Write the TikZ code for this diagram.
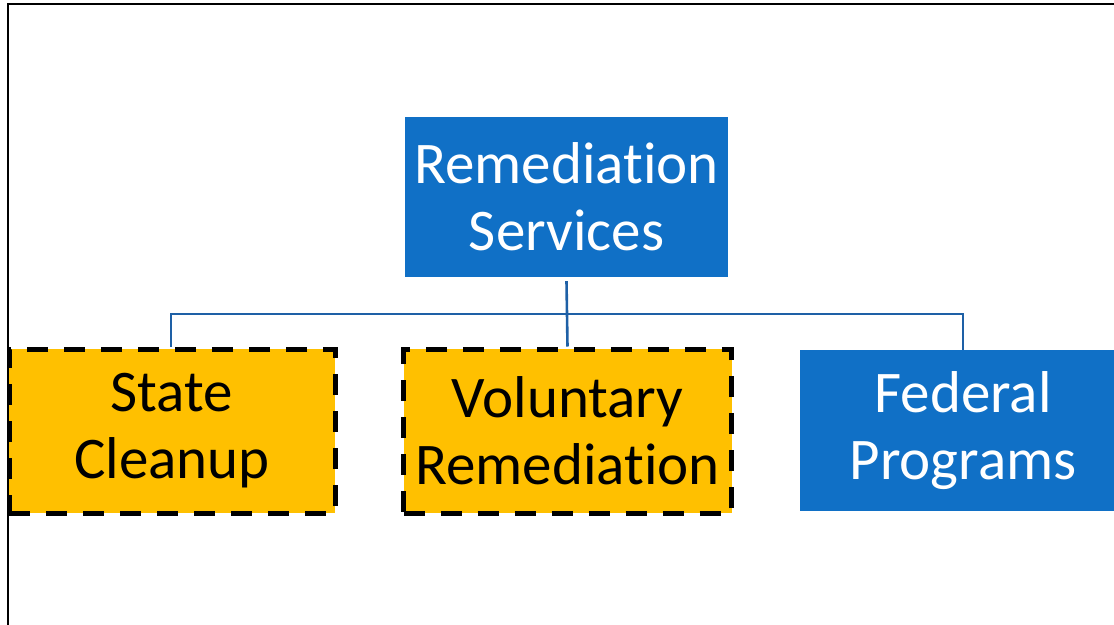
\documentclass[tikz,border=0pt]{standalone}
\usepackage{fontspec}
\setmainfont{Carlito}[Ligatures=NoCommon]
\begin{document}
\begin{tikzpicture}[x=1pt,y=-1pt,
  box/.style={rectangle, inner sep=0pt, align=center,
    font=\fontsize{59}{67}\selectfont},
  bluebox/.style={box, fill=boxblue, text=white},
  goldbox/.style={box, fill=boxgold, text=black, draw=black,
    line width=5pt, dash pattern=on 21pt off 16pt},
  link/.style={draw=linkblue, line width=2.6pt}]
\definecolor{boxblue}{RGB}{16,112,198}
\definecolor{boxgold}{RGB}{255,192,0}
\definecolor{linkblue}{RGB}{30,96,166}
\useasboundingbox (0,0) rectangle (1114,624);
\clip (0,0) rectangle (1114,624);
% outer frame (only its top and left edges fall inside the page)
\draw[line width=2pt] (8.3,700) -- (8.3,4.3) -- (1200,4.3);
% boxes
\node[bluebox, minimum width=323pt, minimum height=160pt] (top) at (566.5,197) {Remediation\\Services};
\node[goldbox, minimum width=326pt, minimum height=164pt] (state) at (172,431) {State\\Cleanup};
\node[goldbox, minimum width=328pt, minimum height=164pt] (vol) at (567.5,431) {Voluntary\\Remediation};
\node[bluebox, minimum width=326pt, minimum height=161pt] (fed) at (963,430.5) {Federal\\Programs};
% connectors
\coordinate (bus) at (567,314);
\draw[link] ([yshift=-4pt]top.south) -- (bus);
\draw[link] (state.north -| 171,0) |- (bus);
\draw[link] (bus) -| (fed.north);
\draw[link] (bus) -- (vol.north);
\end{tikzpicture}
\end{document}
